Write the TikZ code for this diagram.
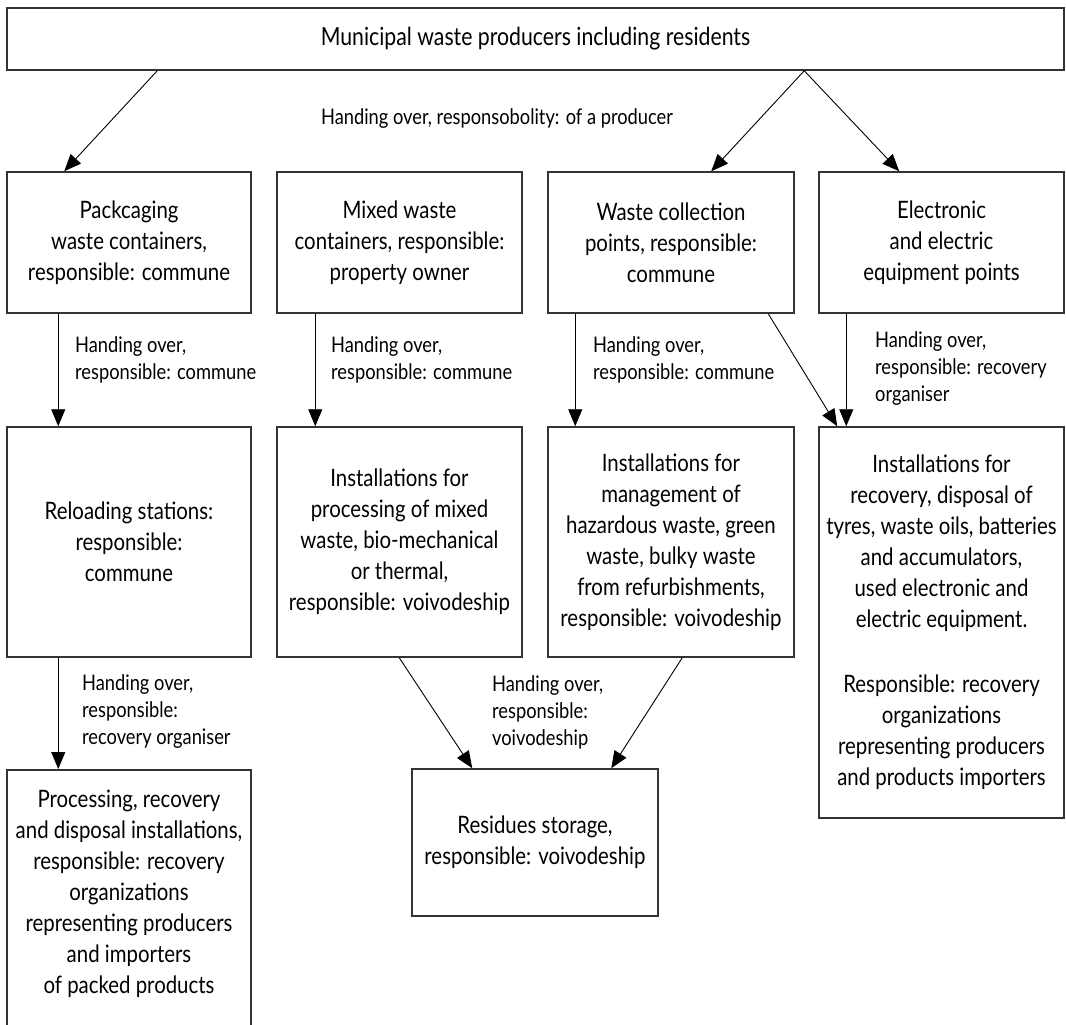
\documentclass[tikz,border=0pt]{standalone}
\usepackage{fontspec}
\setmainfont{Lato}[FakeStretch=0.85]
\usetikzlibrary{arrows.meta}
\begin{document}
\begin{tikzpicture}[x=1pt,y=-1pt,
	box/.style={draw=black!80,line width=1.5pt,align=center,inner sep=0pt,font=\fontsize{24}{31}\selectfont},
	txt/.style={align=center,inner sep=0pt,font=\fontsize{24}{31}\selectfont},
	lbl/.style={align=left,anchor=west,inner sep=0pt,font=\fontsize{21.5}{27}\selectfont},
	arr/.style={-{Triangle[length=17pt,width=14pt]},line width=0.9pt}]
		
		\useasboundingbox (0,0) rectangle (1066,1025);
		\node(1) at (535.5,39)[box,minimum width=1057,minimum height=62,font=\fontsize{25}{31}\selectfont]{Municipal waste producers including residents};
		\node(2) at (129,242.5)[box,minimum width=244,minimum height=141]{Packcaging\\waste containers,\\responsible: commune};
		\node(3) at (399.5,242.5)[box,minimum width=245,minimum height=141]{Mixed waste\\containers, responsible:\\property owner};
		\node(4) at (671,242.5)[box,minimum width=246,minimum height=141]{Waste collection\\points, responsible:\\commune};
		\node(5) at (941.5,242.5)[box,minimum width=245,minimum height=141]{Electronic\\and electric\\equipment points};
		\node(6) at (129,542)[box,minimum width=244,minimum height=230]{Reloading stations:\\responsible:\\commune};
		\node(7) at (399.5,542)[box,minimum width=245,minimum height=230]{Installations for\\processing of mixed\\waste, bio-mechanical\\or thermal,\\responsible: voivodeship};
		\node(8) at (671,542)[box,minimum width=246,minimum height=230]{Installations for\\management of\\hazardous waste, green\\waste, bulky waste\\from refurbishments,\\responsible: voivodeship};
		\node(9) at (941.5,622.5)[box,minimum width=245,minimum height=391]{Installations for\\recovery, disposal of\\tyres, waste oils, batteries\\and accumulators,\\used electronic and\\electric equipment.\\[34pt]Responsible: recovery\\organizations\\representing producers\\and products importers};
		\node(10) at (129,769)[box,anchor=north,minimum width=244,minimum height=300]{};
		\node(11) at (129,894)[txt]{Processing, recovery\\and disposal installations,\\responsible: recovery\\organizations\\representing producers\\and importers\\of packed products};
		\node(12) at (535,842.5)[box,minimum width=246,minimum height=147]{Residues storage,\\responsible: voivodeship};
		
		\node(l1) at (497,119)[lbl,anchor=center]{Handing over, responsobolity: of a producer};
		\node(l2) at (75,359.5)[lbl]{Handing over,\\responsible: commune};
		\node(l3) at (331,359.5)[lbl]{Handing over,\\responsible: commune};
		\node(l4) at (593,359.5)[lbl]{Handing over,\\responsible: commune};
		\node(l5) at (875,369)[lbl]{Handing over,\\responsible: recovery\\organiser};
		\node(l6) at (82,712)[lbl]{Handing over,\\responsible:\\recovery organiser};
		\node(l7) at (492,712)[lbl]{Handing over,\\responsible:\\voivodeship};
		
		\draw[arr] ([xshift=151pt]1.south west) -- ([xshift=58pt]2.north west);
		\draw[arr] ([xshift=798pt]1.south west) -- ([xshift=164pt]4.north west);
		\draw[arr] ([xshift=798pt]1.south west) -- ([xshift=81pt]5.north west);
		\draw[arr] ([xshift=52pt]2.south west) -- ([xshift=52pt]6.north west);
		\draw[arr] ([xshift=39pt]3.south west) -- ([xshift=39pt]7.north west);
		\draw[arr] ([xshift=28pt]4.south west) -- ([xshift=28pt]8.north west);
		\draw[arr] ([xshift=221pt]4.south west) -- ([xshift=19pt]9.north west);
		\draw[arr] ([xshift=28pt]5.south west) -- ([xshift=28pt]9.north west);
		\draw[arr] ([xshift=52pt]6.south west) -- ([xshift=52pt]10.north west);
		\draw[arr] ([xshift=123pt]7.south west) -- ([xshift=61pt]12.north west);
		\draw[arr] ([xshift=135pt]8.south west) -- ([xshift=200pt]12.north west);
		
	\end{tikzpicture}
\end{document}
